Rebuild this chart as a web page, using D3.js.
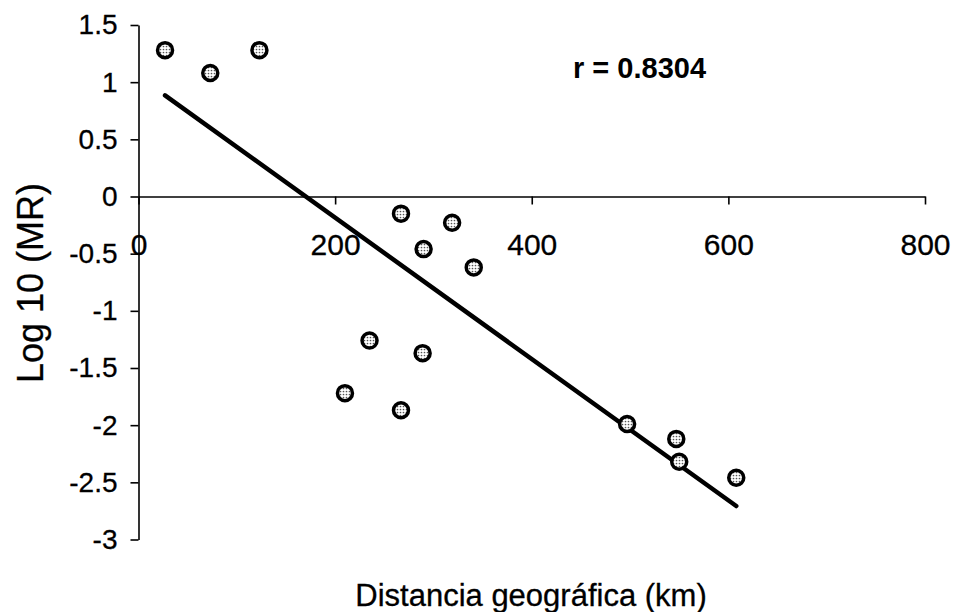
<!DOCTYPE html>
<html>
<head>
<meta charset="utf-8">
<script src="https://cdn.jsdelivr.net/npm/d3@7"></script>
<style>
  html, body { margin: 0; padding: 0; background: #fff; }
  svg { display: block; font-family: "Liberation Sans", Arial, sans-serif; }
</style>
</head>
<body>
<svg id="chart" width="954" height="612"></svg>
<script>
// Geographic distance (km) between populations
const distanceKm = [27, 73, 123, 267, 319, 290, 341, 235, 289, 210, 267, 497, 547, 550, 608];
// log10 of MR for each pair
const log10MR = [1.28, 1.08, 1.28, -0.15, -0.23, -0.46, -0.62, -1.26, -1.37, -1.72, -1.87, -1.99, -2.12, -2.32, -2.46];

const xTicks = [0, 200, 400, 600, 800];
const yTicks = [1.5, 1, 0.5, 0, -0.5, -1, -1.5, -2, -2.5, -3];
const corrLabel = "r = 0.8304";
const xTitle = "Distancia geográfica (km)";
const yTitle = "Log 10 (MR)";

const svg = d3.select("#chart");

const x = d3.scaleLinear().domain([0, 800]).range([138.5, 925]);
const y = d3.scaleLinear().domain([-3, 1.5]).range([539.5, 25]);

// Speckled fill used for the markers
const defs = svg.append("defs");
const pat = defs.append("pattern")
  .attr("id", "speckle")
  .attr("patternUnits", "userSpaceOnUse")
  .attr("width", 3).attr("height", 3);
pat.append("rect").attr("width", 3).attr("height", 3).attr("fill", "#fff");
pat.append("circle").attr("cx", 1.5).attr("cy", 1.5).attr("r", 0.85).attr("fill", "#555");

// Y axis
const yAxis = svg.append("g")
  .attr("transform", `translate(${x(0)},0)`)
  .call(d3.axisLeft(y).tickValues(yTicks).tickFormat(d => String(d))
    .tickSize(8).tickSizeOuter(0).tickPadding(13));
yAxis.select(".domain").attr("stroke", "#000").attr("stroke-width", 1.6);
yAxis.selectAll(".tick line").attr("stroke", "#000").attr("stroke-width", 1.6);
yAxis.selectAll(".tick text")
  .attr("fill", "#000")
  .attr("stroke", "#000").attr("stroke-width", 0.3)
  .style("font-size", "28px")
  .style("font-family", "'Liberation Sans', Arial, sans-serif");

// X axis drawn along y = 0
const xAxis = svg.append("g")
  .attr("transform", `translate(0,${y(0)})`)
  .call(d3.axisBottom(x).tickValues(xTicks).tickFormat(d => String(d))
    .tickSize(8).tickSizeOuter(0).tickPadding(29));
xAxis.select(".domain").attr("stroke", "#000").attr("stroke-width", 1.6);
xAxis.selectAll(".tick line").attr("stroke", "#000").attr("stroke-width", 1.6);
xAxis.selectAll(".tick text")
  .attr("fill", "#000")
  .attr("stroke", "#000").attr("stroke-width", 0.3)
  .style("font-size", "30px")
  .style("font-family", "'Liberation Sans', Arial, sans-serif");

// Least-squares regression line
const n = distanceKm.length;
const mx = d3.mean(distanceKm), my = d3.mean(log10MR);
let sxy = 0, sxx = 0;
for (let i = 0; i < n; i++) {
  sxy += (distanceKm[i] - mx) * (log10MR[i] - my);
  sxx += (distanceKm[i] - mx) ** 2;
}
const slope = sxy / sxx;
const intercept = my - slope * mx;
const [xmin, xmax] = d3.extent(distanceKm);

svg.append("line")
  .attr("x1", x(xmin)).attr("y1", y(intercept + slope * xmin))
  .attr("x2", x(xmax)).attr("y2", y(intercept + slope * xmax))
  .attr("stroke", "#000").attr("stroke-width", 4.5)
  .attr("stroke-linecap", "round");

// Data points
svg.append("g").selectAll("circle")
  .data(distanceKm.map((d, i) => [d, log10MR[i]]))
  .join("circle")
  .attr("cx", d => x(d[0]))
  .attr("cy", d => y(d[1]))
  .attr("r", 7.5)
  .attr("fill", "url(#speckle)")
  .attr("stroke", "#000")
  .attr("stroke-width", 3.5);

// Correlation annotation
svg.append("text")
  .attr("x", 573).attr("y", 78)
  .attr("fill", "#000")
  .style("font-size", "29px")
  .style("font-weight", "bold")
  .text(corrLabel);

// Axis titles
svg.append("text")
  .attr("x", 531).attr("y", 606)
  .attr("text-anchor", "middle")
  .attr("fill", "#000")
  .attr("stroke", "#000").attr("stroke-width", 0.3)
  .style("font-size", "31px")
  .text(xTitle);

svg.append("text")
  .attr("transform", "translate(43,283) rotate(-90)")
  .attr("text-anchor", "middle")
  .attr("fill", "#000")
  .attr("stroke", "#000").attr("stroke-width", 0.3)
  .style("font-size", "36px")
  .text(yTitle);
</script>
</body>
</html>
